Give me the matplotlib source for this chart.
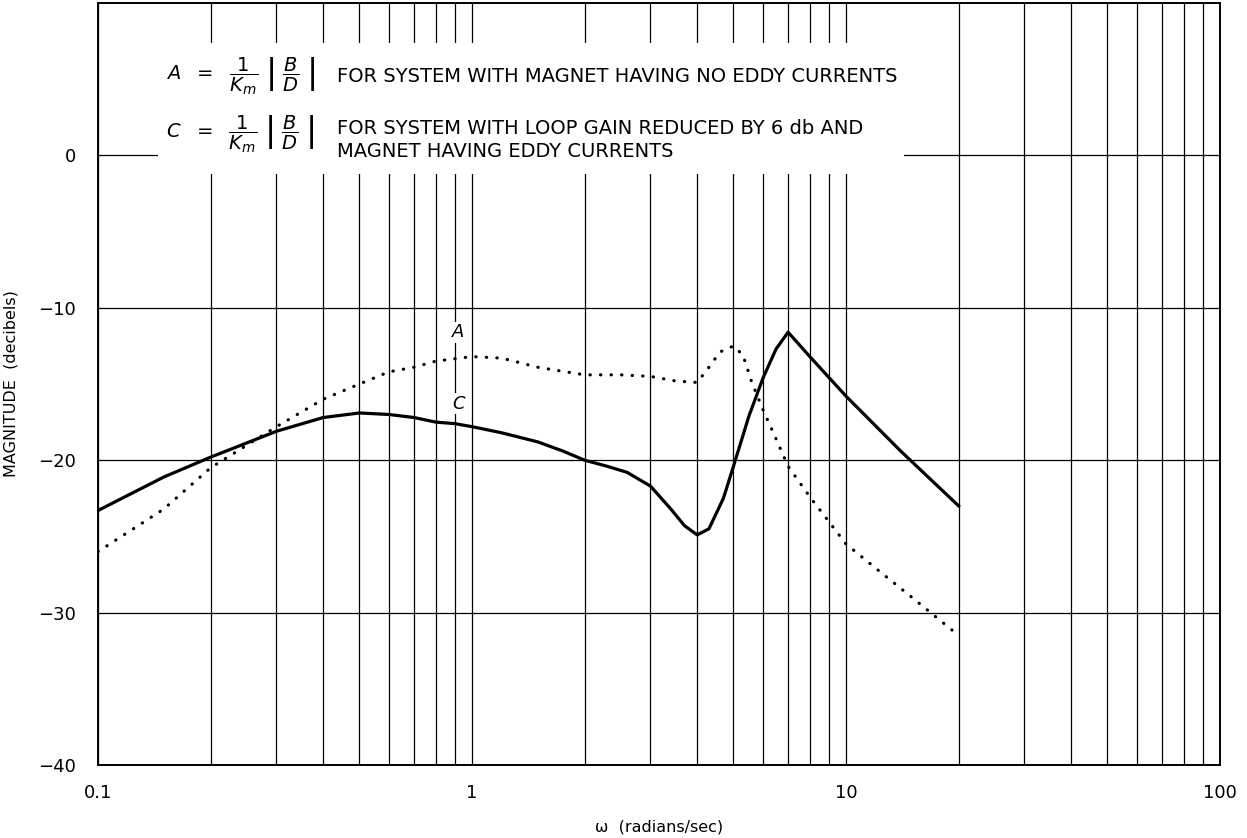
import matplotlib
matplotlib.use("Agg")
import matplotlib.pyplot as plt
from matplotlib.patches import Rectangle
from matplotlib.ticker import LogLocator, NullFormatter, FixedLocator

# frequency response read at these omegas (rad/sec)
w_c = [0.1, 0.15, 0.2, 0.3, 0.4, 0.5, 0.6, 0.7, 0.8, 0.9, 1.0, 1.2, 1.5, 1.75,
       2.0, 2.3, 2.6, 3.0, 3.4, 3.7, 4.0, 4.3, 4.7, 5.0, 5.5, 6.0, 6.5, 7.0,
       8.0, 10, 14, 20]
mag_c = [-23.3, -21.1, -19.8, -18.1, -17.2, -16.9, -17.0, -17.2, -17.5, -17.6,
         -17.8, -18.2, -18.8, -19.4, -20.0, -20.4, -20.8, -21.7, -23.2, -24.3,
         -24.9, -24.5, -22.5, -20.4, -17.1, -14.6, -12.7, -11.6, -13.2, -15.8,
         -19.4, -23.0]

w_a = [0.1, 0.15, 0.2, 0.3, 0.4, 0.5, 0.6, 0.7, 0.8, 1.0, 1.2, 1.5, 2.0, 2.5,
       3.0, 3.5, 4.0, 4.3, 4.6, 5.0, 5.3, 5.6, 6.0, 6.5, 7.0, 8.0, 10, 12.3, 15, 20]
mag_a = [-26.0, -23.2, -20.5, -17.8, -16.0, -15.0, -14.2, -13.9, -13.5, -13.2,
         -13.3, -13.9, -14.4, -14.4, -14.5, -14.8, -14.9, -13.9, -12.9, -12.5,
         -13.1, -14.9, -16.7, -18.6, -20.4, -22.4, -25.5, -27.3, -29.0, -31.5]

x_ticks = [0.1, 1, 10, 100]
x_labels = ["0.1", "1", "10", "100"]
y_ticks = [-40, -30, -20, -10, 0]
y_labels = ["\u221240", "\u221230", "\u221220", "\u221210", "0"]

plt.rcParams["font.family"] = ["DejaVu Sans"]
fig = plt.figure(figsize=(12.47, 8.38), dpi=100)
ax = fig.add_axes([0.0786, 0.0871, 0.8998, 0.9093])

ax.set_xscale("log")
ax.set_xlim(0.1, 100)
ax.set_ylim(-40, 10)

ax.xaxis.set_major_locator(FixedLocator(x_ticks))
ax.set_xticklabels(x_labels)
ax.xaxis.set_minor_locator(LogLocator(base=10, subs=range(2, 10)))
ax.xaxis.set_minor_formatter(NullFormatter())
ax.set_yticks(y_ticks)
ax.set_yticklabels(y_labels)
ax.tick_params(which="both", length=0, labelsize=13)
ax.tick_params(axis="y", pad=16)
ax.tick_params(axis="x", pad=14)

ax.grid(which="both", axis="x", color="black", lw=0.9)
ax.grid(which="major", axis="y", color="black", lw=0.9)
for s in ax.spines.values():
    s.set_linewidth(1.4)

ax.plot(w_c, mag_c, color="black", lw=2.3, solid_joinstyle="round", zorder=3)
ax.plot(w_a, mag_a, color="black", lw=2.3, linestyle=(0, (0.1, 3.2)),
        dash_capstyle="round", zorder=3)

# white panel behind the key text
ax.add_patch(Rectangle((0.145, -1.2), 14.3 - 0.145, 8.6, facecolor="white",
                       edgecolor="none", zorder=1.7))

key_math = r"$%s\ \ =\ \ \dfrac{1}{K_m}\ \left|\ \dfrac{B}{D}\ \right|$"
ax.text(0.152, 5.2, key_math % "A", fontsize=14, va="center", ha="left",
        zorder=4)
ax.text(0.435, 5.2, "FOR SYSTEM WITH MAGNET HAVING NO EDDY CURRENTS",
        fontsize=14, va="center", ha="left", zorder=4)
ax.text(0.152, 1.4, key_math % "C", fontsize=14, va="center", ha="left",
        zorder=4)
ax.text(0.435, 1.0, "FOR SYSTEM WITH LOOP GAIN REDUCED BY 6 db AND\n"
        "MAGNET HAVING EDDY CURRENTS", fontsize=14, va="center", ha="left",
        linespacing=1.3, zorder=4)

ax.text(0.92, -11.6, "A", fontsize=13, style="italic", ha="center",
        va="center", zorder=4,
        bbox=dict(facecolor="white", edgecolor="none", pad=1))
ax.text(0.92, -16.3, "C", fontsize=13, style="italic", ha="center",
        va="center", zorder=4,
        bbox=dict(facecolor="white", edgecolor="none", pad=1))

ax.set_xlabel("\u03c9  (radians/sec)", fontsize=11.5, labelpad=12)
ax.set_ylabel("MAGNITUDE  (decibels)", fontsize=11.5, labelpad=14)

fig.savefig("out.png", dpi=100)
